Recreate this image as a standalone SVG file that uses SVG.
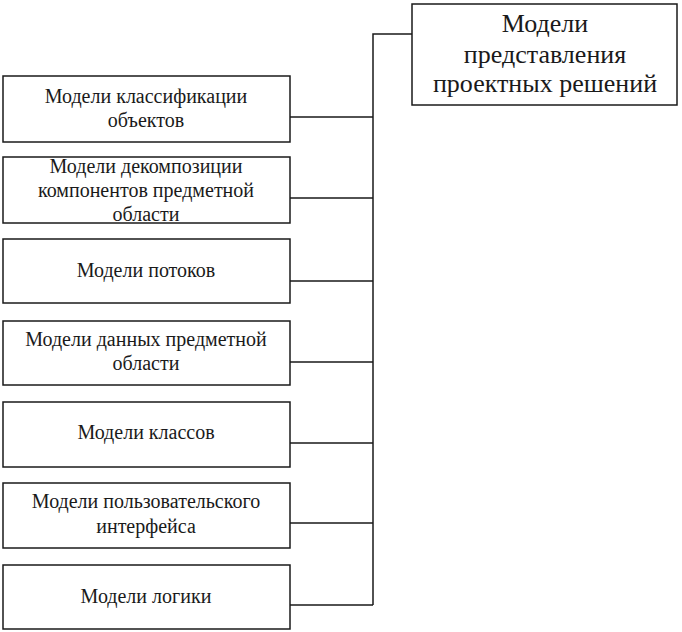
<svg xmlns="http://www.w3.org/2000/svg" width="682" height="632" viewBox="0 0 682 632">
<style>
.box{fill:#fff;stroke:#1a1a1a;stroke-width:1.5}
.t{font-family:"Liberation Serif","Times New Roman",serif;font-size:20px;fill:#1a1a1a;text-anchor:middle}
.tt{font-family:"Liberation Serif","Times New Roman",serif;font-size:26px;fill:#1a1a1a;text-anchor:middle}
.c{fill:none;stroke:#1a1a1a;stroke-width:1.5}
</style>
<rect width="682" height="632" fill="#fff"/>
<g id="connectors">
<path class="c" d="M412,34 H373 V605"/>
<path class="c" d="M290,117 H373 M290,198 H373 M290,281 H373 M290,362 H373 M290,443 H373 M290,523 H373 M290,605 H373"/>
</g>
<g id="root">
<rect class="box" x="412" y="4" width="265" height="101"/>
<text class="tt" x="545" y="32">Модели</text>
<text class="tt" x="545" y="63">представления</text>
<text class="tt" x="545" y="92">проектных решений</text>
</g>
<g id="n1">
<rect class="box" x="3" y="76" width="287" height="66"/>
<text class="t" x="146" y="103">Модели классификации</text>
<text class="t" x="146" y="127">объектов</text>
</g>
<g id="n2">
<rect class="box" x="3" y="157" width="287" height="66"/>
<text class="t" x="146" y="173">Модели декомпозиции</text>
<text class="t" x="146" y="197">компонентов предметной</text>
<text class="t" x="146" y="221">области</text>
</g>
<g id="n3">
<rect class="box" x="3" y="239" width="287" height="64"/>
<text class="t" x="146" y="277">Модели потоков</text>
</g>
<g id="n4">
<rect class="box" x="3" y="321" width="287" height="64"/>
<text class="t" x="146" y="346">Модели данных предметной</text>
<text class="t" x="146" y="370">области</text>
</g>
<g id="n5">
<rect class="box" x="3" y="402" width="287" height="65"/>
<text class="t" x="146" y="439">Модели классов</text>
</g>
<g id="n6">
<rect class="box" x="3" y="483" width="287" height="65"/>
<text class="t" x="146" y="508">Модели пользовательского</text>
<text class="t" x="146" y="533">интерфейса</text>
</g>
<g id="n7">
<rect class="box" x="3" y="565" width="287" height="64"/>
<text class="t" x="146" y="603">Модели логики</text>
</g>
</svg>
